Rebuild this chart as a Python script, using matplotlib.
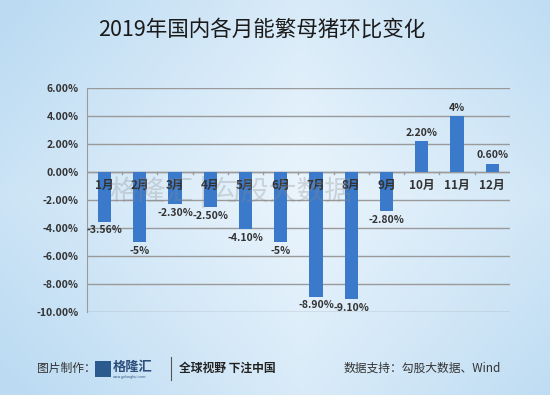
import matplotlib
matplotlib.use("Agg")
import matplotlib.pyplot as plt
import numpy as np

plt.rcParams["font.family"] = ["Noto Sans CJK SC", "DejaVu Sans"]

months = ["1月", "2月", "3月", "4月", "5月", "6月", "7月", "8月", "9月", "10月", "11月", "12月"]
values = [-3.56, -5.0, -2.30, -2.50, -4.10, -5.0, -8.90, -9.10, -2.80, 2.20, 4.0, 0.60]
value_labels = ["-3.56%", "-5%", "-2.30%", "-2.50%", "-4.10%", "-5%", "-8.90%", "-9.10%",
                "-2.80%", "2.20%", "4%", "0.60%"]
yticks = [6, 4, 2, 0, -2, -4, -6, -8, -10]

fig = plt.figure(figsize=(5.5, 3.95), dpi=100)

# light blue background gradient
bg = fig.add_axes([0, 0, 1, 1], zorder=-10)
gx, gy = np.meshgrid(np.linspace(0, 1, 200), np.linspace(0, 1, 150))
shade = 0.55 * np.abs(gx - 0.55) + 0.35 * np.abs(gy - 0.5)
c_light = np.array([0.92, 0.96, 0.99])
c_dark = np.array([0.74, 0.86, 0.95])
img = c_light + (c_dark - c_light) * np.clip(shade / 0.45, 0, 1)[..., None]
bg.imshow(img, aspect="auto", extent=[0, 1, 0, 1])
bg.axis("off")

ax = fig.add_axes([0.158, 0.21, 0.769, 0.567])
ax.patch.set_alpha(0)
x = np.arange(len(months))
ax.bar(x, values, width=0.38, color="#3b7acb", zorder=3)

ax.set_xlim(-0.5, len(months) - 0.5)
ax.set_ylim(-10, 6)
ax.set_yticks(yticks)
ax.set_yticklabels([f"{t:.2f}%" for t in yticks], fontsize=7.5, fontweight="bold", color="#333333")
ax.set_xticks([])
ax.grid(axis="y", color="#9a9a9a", linewidth=1.0, zorder=0)
ax.tick_params(axis="y", length=0, pad=6)
for s in ["top", "right", "bottom"]:
    ax.spines[s].set_visible(False)
ax.spines["left"].set_color("#9a9a9a")
ax.axhline(0, color="#9a9a9a", linewidth=1.0, zorder=2)
for b in np.arange(0.5, len(months) - 0.5, 1):
    ax.plot([b, b], [0, -0.15], color="#9a9a9a", linewidth=1.0, zorder=2)

for xi, m in zip(x, months):
    ax.text(xi, -0.95, m, ha="center", va="center", fontsize=8.5, fontweight="bold",
            color="#333333", zorder=4)

for xi, v, lab in zip(x, values, value_labels):
    if v < 0:
        ax.text(xi, v - 0.25, lab, ha="center", va="top", fontsize=7.5, fontweight="bold",
                color="#333333", zorder=4)
    else:
        ax.text(xi, v + 0.25, lab, ha="center", va="bottom", fontsize=7.5, fontweight="bold",
                color="#333333", zorder=4)

# faint watermark
fig.text(0.42, 0.515, "格隆汇 | 勾股大数据", fontsize=20, color="#8a8a8a", alpha=0.3,
         ha="center", va="center", zorder=5)

fig.text(0.475, 0.925, "2019年国内各月能繁母猪环比变化", ha="center", va="center",
         fontsize=15.5, color="#1a1a1a")

# footer
fy = 0.067
fig.text(0.067, fy, "图片制作：", fontsize=8.5, color="#333333", va="center")
fig.patches.append(matplotlib.patches.Rectangle((0.173, fy - 0.022), 0.028, 0.042, transform=fig.transFigure,
                                                 facecolor="#2b5a8f", edgecolor="none", figure=fig))
fig.text(0.205, fy + 0.004, "格隆汇", fontsize=9.5, fontweight="bold", color="#2b4d7a", va="center")
fig.text(0.205, fy - 0.022, "www.gelonghui.com", fontsize=2.5, color="#2b4d7a", va="center")
fig.add_artist(matplotlib.lines.Line2D([0.311, 0.311], [fy - 0.03, fy + 0.03], color="#555555", linewidth=0.8))
fig.text(0.325, fy, "全球视野 下注中国", fontsize=8.5, fontweight="bold", color="#222222", va="center")
fig.text(0.624, fy, "数据支持：勾股大数据、Wind", fontsize=8.5, color="#333333", va="center")

fig.savefig("out.png", dpi=100)
